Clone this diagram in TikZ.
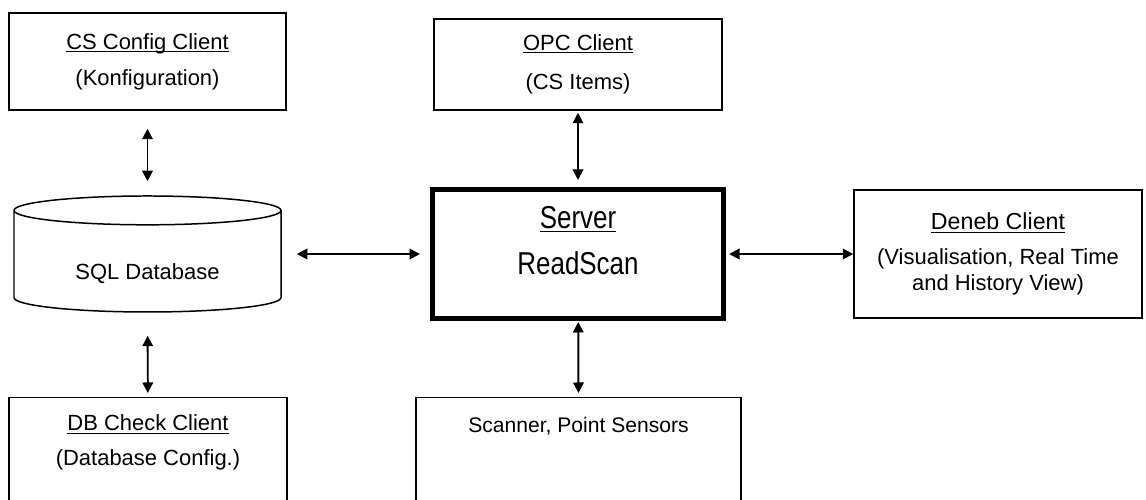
\documentclass[tikz,border=0pt]{standalone}
\usepackage{fontspec}
\setmainfont{Liberation Sans}
\newfontfamily\srvfont[FakeStretch=0.82]{Liberation Sans}
\usepackage{tikz}
\usetikzlibrary{arrows.meta,positioning,shapes.geometric}
\newcommand{\uln}[1]{\setbox0\hbox{#1}\rlap{\rule[-1.7pt]{\wd0}{0.7pt}}\box0}
\tikzset{
  >={Triangle[length=2.1mm,width=2.1mm]},
  % kaestchen
  bx/.style={rectangle,draw=black,line width=0.85pt,inner sep=0pt,
             font=\fontsize{12.5}{15}\selectfont,align=center},
  srv/.style={bx,line width=2.85pt},
  dbc/.style={cylinder,shape border rotate=90,aspect=0.2,draw=black,
              line width=0.85pt,inner sep=0pt,font=\fontsize{12.5}{15}\selectfont},
  tx/.style={inner sep=0pt,align=center,font=\fontsize{12.5}{15}\selectfont},
  big/.style={tx,font=\fontsize{18}{22}\srvfont},
  % verbindungen
  lnk/.style={<->,draw=black,line width=1.1pt},
}
\begin{document}
\begin{tikzpicture}
\clip (0,0) rectangle (22.92,10);
  \node[bx,minimum width=5.54cm,minimum height=1.94cm] (cscfg) at (2.95,8.77)
    {\uln{CS Config Client}\\[1.9mm](Konfiguration)};
  \node[bx,minimum width=5.76cm,minimum height=1.82cm] (opc) at (11.56,8.71)
    {\uln{OPC Client}\\[2.6mm](CS Items)};
  \node[dbc,anchor=shape center,minimum width=5.34cm,minimum height=2.32cm] (sqldb) at (2.95,4.92)
    {\raisebox{-2.6mm}[9pt][3pt]{SQL Database}};
  \node[srv,minimum width=5.82cm,minimum height=2.58cm] (server) at (11.56,4.92) {};
  \node[big,yshift=2.6mm] (servertxt) at (server) {\uln{Server}\\[1.5mm]ReadScan};
  \node[bx,minimum width=5.76cm,minimum height=2.56cm] (deneb) at (19.96,4.92)
    {\fontsize{13.2}{15.8}\selectfont\uln{Deneb Client}\\[1.6mm](Visualisation, Real Time\\and History View)};
  \node[bx,anchor=north,minimum width=5.56cm,minimum height=3cm] (dbcheck) at (2.96,2.06) {};
  \node[tx] (dbchecktxt) at (2.96,1.15) {\uln{DB Check Client}\\[1.7mm](Database Config.)};
  \node[bx,anchor=north,minimum width=6.5cm,minimum height=3cm] (scanner) at (11.57,2.06) {};
  \node[tx,font=\fontsize{12}{14.4}\selectfont,below=0.4cm of scanner.north] (scannertxt) {Scanner, Point Sensors};
  \draw[lnk,shorten <=0.36cm,shorten >=0.28cm] (cscfg) -- (sqldb);
  \draw[lnk,shorten <=0.46cm,shorten >=0.08cm] (sqldb) -- (dbcheck);
  \draw[lnk,shorten <=0.3cm,shorten >=0.2cm] (sqldb.east |- server.west) -- (server.west);
  \draw[lnk,shorten <=0.04cm,shorten >=0.14cm] (opc) -- (server);
  \draw[lnk,shorten <=0.02cm,shorten >=0.08cm] (server) -- (scanner.north);
  \draw[lnk,shorten <=0.06cm] (server) -- (deneb);
\end{tikzpicture}
\end{document}
